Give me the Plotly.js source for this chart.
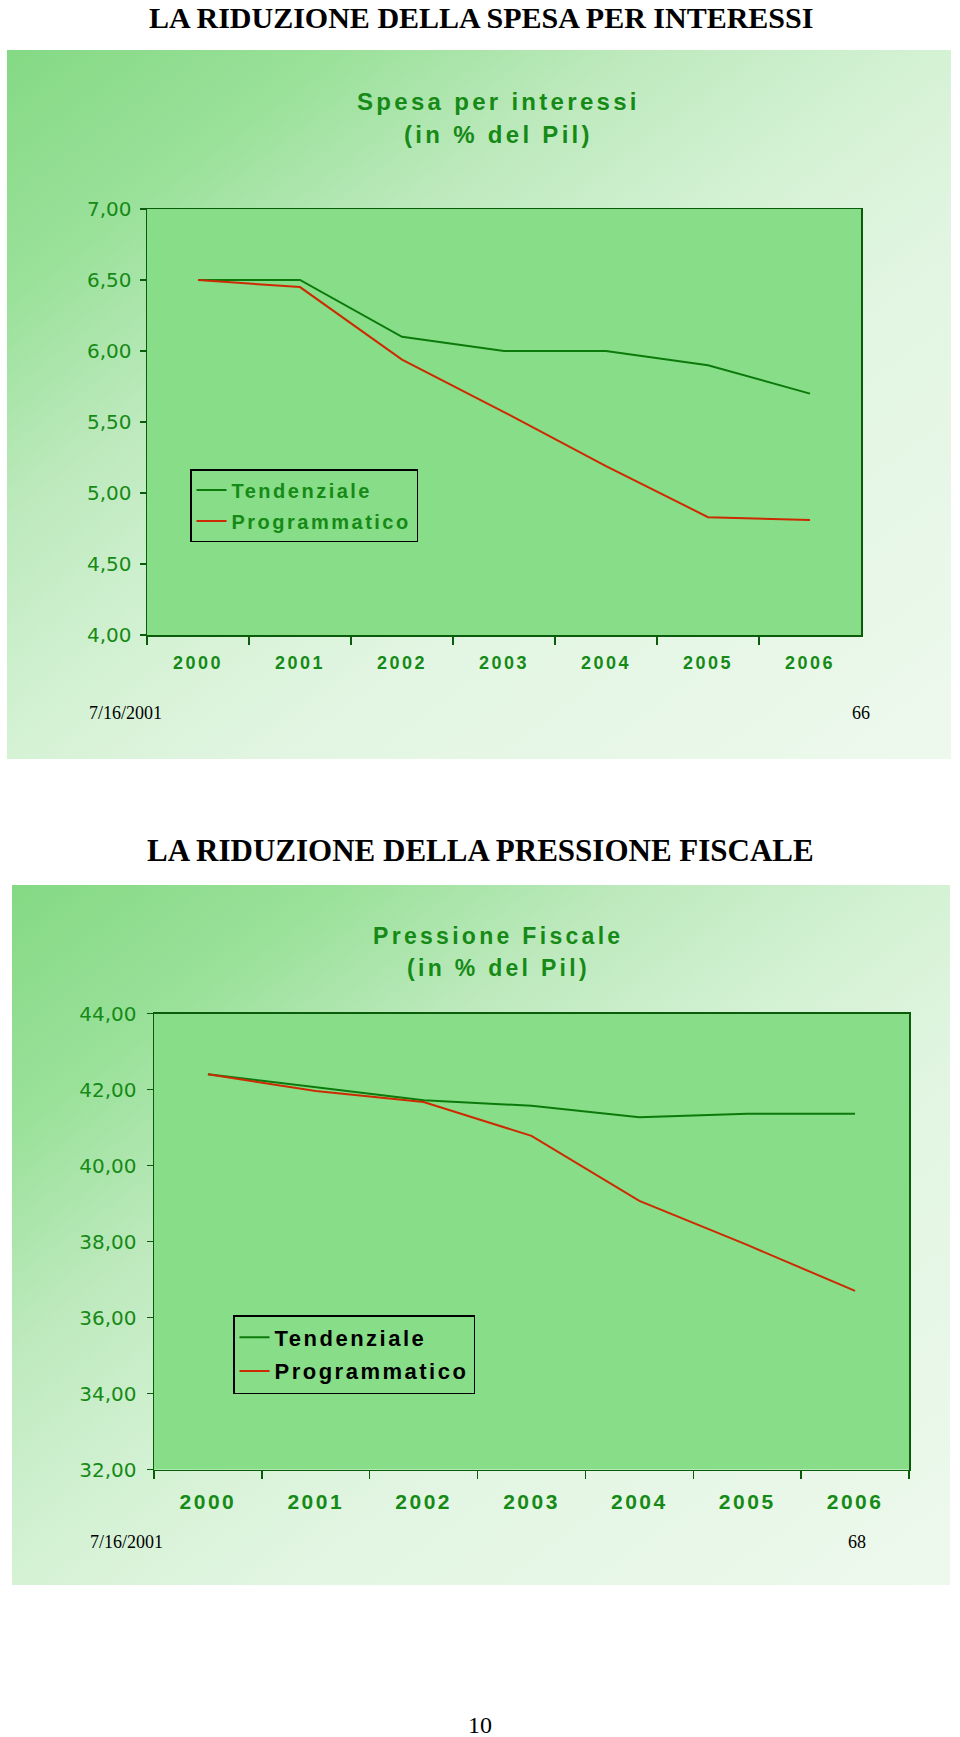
<!DOCTYPE html>
<html>
<head>
<meta charset="utf-8">
<script src="https://cdn.plot.ly/plotly-3.0.1.min.js"></script>
<style>
  html, body { margin:0; padding:0; background:#ffffff; }
  #page { position:relative; width:960px; height:1737px; overflow:hidden; }
  .panel { position:absolute;
    background: linear-gradient(to bottom right, #84d984 0%, #9be19b 18%, #bde9bd 33%, #d5f2d5 50%, #e2f5e2 64%, #edf9ed 100%); }
  #chart { position:absolute; left:0; top:0; width:960px; height:1737px; }
  #chart .xtick text, #chart .x2tick text { letter-spacing: 2.5px; }
</style>
</head>
<body>
<div id="page">
  <div class="panel" style="left:7px; top:50px; width:944px; height:709px;"></div>
  <div class="panel" style="left:12px; top:885px; width:938px; height:700px;"></div>
  <div id="chart"></div>
</div>
<script>
// ---- data ----
const years = ['2000', '2001', '2002', '2003', '2004', '2005', '2006'];
const seriesNames = ['Tendenziale', 'Programmatico'];
const interestTendenziale = [6.50, 6.50, 6.10, 6.00, 6.00, 5.90, 5.70];
const interestProgrammatico = [6.50, 6.45, 5.94, 5.57, 5.19, 4.83, 4.81];
const fiscalTendenziale = [42.40, 42.06, 41.72, 41.57, 41.27, 41.36, 41.36];
const fiscalProgrammatico = [42.40, 41.96, 41.67, 40.78, 39.07, 37.91, 36.70];
const interestTicks = [4.0, 4.5, 5.0, 5.5, 6.0, 6.5, 7.0];
const fiscalTicks = [32, 34, 36, 38, 40, 42, 44];

// ---- page geometry helpers ----
const W = 960, H = 1737;
const px = x => x / W;
const py = y => 1 - y / H;

const GREEN_LINE = '#0b7a0b';
const RED_LINE = '#cc2a00';
const GREEN_TEXT = '#168a16';
const AXIS = '#0a5c0a';

function sp(t, s) { return '<span style="letter-spacing:' + s + 'px">' + t + '</span>'; }

const traces = [
  { x: years, y: interestTendenziale, name: sp(seriesNames[0], 2.5), type: 'scatter', mode: 'lines',
    line: { color: GREEN_LINE, width: 2 }, xaxis: 'x', yaxis: 'y', legend: 'legend', legendgroup: 'a' },
  { x: years, y: interestProgrammatico, name: sp(seriesNames[1], 2.5), type: 'scatter', mode: 'lines',
    line: { color: RED_LINE, width: 2 }, xaxis: 'x', yaxis: 'y', legend: 'legend', legendgroup: 'b' },
  { x: years, y: fiscalTendenziale, name: sp(seriesNames[0], 2.5), type: 'scatter', mode: 'lines',
    line: { color: GREEN_LINE, width: 2 }, xaxis: 'x2', yaxis: 'y2', legend: 'legend2', legendgroup: 'c' },
  { x: years, y: fiscalProgrammatico, name: sp(seriesNames[1], 2.5), type: 'scatter', mode: 'lines',
    line: { color: RED_LINE, width: 2 }, xaxis: 'x2', yaxis: 'y2', legend: 'legend2', legendgroup: 'd' }
];

const sans = 'Liberation Sans, Arial, sans-serif';
const serif = 'Liberation Serif, Times New Roman, serif';
const tickSans = 'DejaVu Sans, Verdana, sans-serif';

function xAxis(domain, anchor, fsize, standoff) {
  return {
    domain: domain, anchor: anchor, type: 'category', range: [-0.5, 6.5],
    showline: true, linecolor: AXIS, linewidth: 1.5, mirror: true,
    ticks: 'outside', tickson: 'boundaries', ticklen: 8, tickwidth: 1.5, tickcolor: AXIS,
    tickfont: { family: sans, size: fsize, color: GREEN_TEXT, weight: 'bold' },
    ticklabelstandoff: standoff,
    showgrid: false, zeroline: false, fixedrange: true
  };
}
function yAxis(domain, anchor, range, tickvals, fsize, standoff) {
  return {
    domain: domain, anchor: anchor, range: range, tickvals: tickvals, tickformat: '.2f',
    showline: true, linecolor: AXIS, linewidth: 1.5, mirror: true,
    ticks: 'outside', ticklen: 6, tickwidth: 1.5, tickcolor: AXIS,
    tickfont: { family: tickSans, size: fsize, color: GREEN_TEXT },
    ticklabelstandoff: standoff,
    showgrid: false, zeroline: false, fixedrange: true
  };
}

const annotations = [
  { text: 'LA RIDUZIONE DELLA SPESA PER INTERESSI', x: px(481), y: py(17), font: { family: serif, size: 30, color: '#000', weight: 'bold' } },
  { text: sp('Spesa per interessi', 3.3), x: px(498), y: py(101), font: { family: sans, size: 24, color: GREEN_TEXT, weight: 'bold' } },
  { text: sp('(in % del Pil)', 3.3), x: px(498), y: py(134), font: { family: sans, size: 24, color: GREEN_TEXT, weight: 'bold' } },
  { text: '7/16/2001', x: px(87), y: py(713), xanchor: 'left', font: { family: serif, size: 18, color: '#000' } },
  { text: '66', x: px(861), y: py(713), font: { family: serif, size: 18, color: '#000' } },
  { text: 'LA RIDUZIONE DELLA PRESSIONE FISCALE', x: px(480), y: py(850), font: { family: serif, size: 31, color: '#000', weight: 'bold' } },
  { text: sp('Pressione Fiscale', 3.3), x: px(498), y: py(936), font: { family: sans, size: 23, color: GREEN_TEXT, weight: 'bold' } },
  { text: sp('(in % del Pil)', 3.3), x: px(498), y: py(968), font: { family: sans, size: 23, color: GREEN_TEXT, weight: 'bold' } },
  { text: '7/16/2001', x: px(88), y: py(1542), xanchor: 'left', font: { family: serif, size: 18, color: '#000' } },
  { text: '68', x: px(857), y: py(1542), font: { family: serif, size: 18, color: '#000' } },
  { text: '10', x: px(480), y: py(1725), font: { family: serif, size: 24, color: '#000' } }
].map(a => Object.assign({ xref: 'paper', yref: 'paper', showarrow: false, xanchor: 'center', yanchor: 'middle' }, a));

const layout = {
  width: W, height: H,
  margin: { l: 0, r: 0, t: 0, b: 0 },
  paper_bgcolor: 'rgba(0,0,0,0)',
  plot_bgcolor: '#88dd88',
  separators: ',.',
  showlegend: true,
  xaxis: xAxis([px(147), px(861)], 'y', 18, 11),
  yaxis: yAxis([py(635), py(209)], 'x', [4, 7], interestTicks, 20, 4),
  xaxis2: xAxis([px(154), px(909)], 'y2', 21, 13),
  yaxis2: yAxis([py(1469.5), py(1013.5)], 'x2', [32, 44], fiscalTicks, 20, 6),
  legend: {
    x: px(190), y: py(469), xanchor: 'left', yanchor: 'top',
    bgcolor: 'rgba(0,0,0,0)', bordercolor: '#000', borderwidth: 1.5,
    font: { family: sans, size: 20, color: GREEN_TEXT, weight: 'bold' },
    traceorder: 'grouped', tracegroupgap: 2, itemclick: false, itemdoubleclick: false
  },
  legend2: {
    x: px(233), y: py(1315), xanchor: 'left', yanchor: 'top',
    bgcolor: 'rgba(0,0,0,0)', bordercolor: '#000', borderwidth: 1.5,
    font: { family: sans, size: 22, color: '#000', weight: 'bold' },
    traceorder: 'grouped', tracegroupgap: 2, itemclick: false, itemdoubleclick: false
  },
  annotations: annotations
};

Plotly.newPlot('chart', traces, layout, { displayModeBar: false, staticPlot: true });
</script>
</body>
</html>
